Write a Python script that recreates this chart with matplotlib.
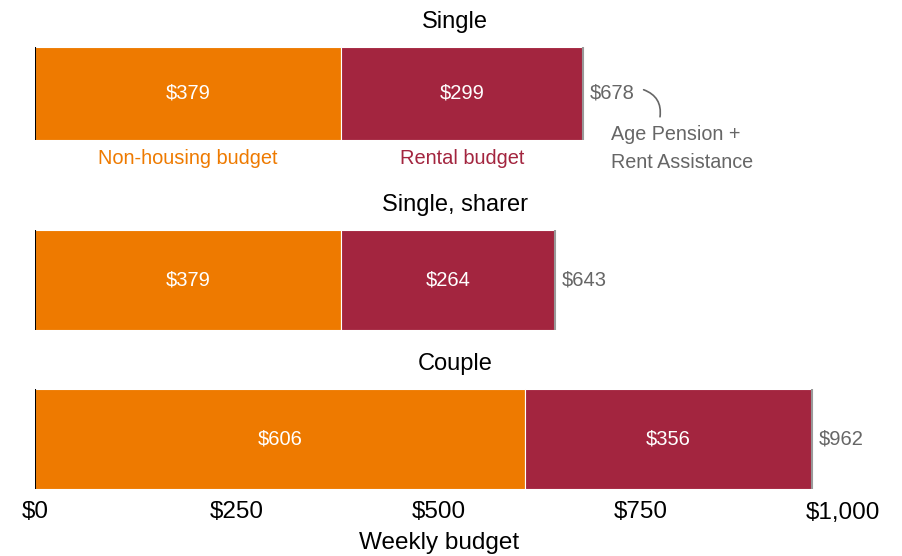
import matplotlib
matplotlib.use("Agg")
import matplotlib.pyplot as plt

plt.rcParams['font.family'] = ['Liberation Sans', 'DejaVu Sans']

# data
groups = ["Single", "Single, sharer", "Couple"]
non_housing = [379, 379, 606]
rental = [299, 264, 356]
xticks = [0, 250, 500, 750, 1000]
xtick_labels = ["$0", "$250", "$500", "$750", "$1,000"]

orange = "#EE7A00"
red = "#A3253F"
grey = "#666666"

W, H = 902, 556
fig = plt.figure(figsize=(W / 100, H / 100), dpi=100)

# bar boxes in pixels (top, bottom)
boxes = [(47, 140), (230, 330), (389, 489)]
x0, x1 = 35, 843


def rect(top, bottom):
    return [x0 / W, (H - bottom) / H, (x1 - x0) / W, (bottom - top) / H]


axes = []
for i, g in enumerate(groups):
    ax = fig.add_axes(rect(*boxes[i]))
    nh, rt = non_housing[i], rental[i]
    tot = nh + rt
    ax.barh(0, nh, height=1, left=0, color=orange, edgecolor="white", linewidth=0.8)
    ax.barh(0, rt, height=1, left=nh, color=red, edgecolor="white", linewidth=0.8)
    ax.set_xlim(0, 1000)
    ax.set_ylim(-0.5, 0.5)
    ax.axvline(0, color="black", lw=1.5)
    ax.axvline(tot, color="#999999", lw=1.5)
    ax.text(nh / 2, 0, f"${nh}", color="white", ha="center", va="center", fontsize=14.5)
    ax.text(nh + rt / 2, 0, f"${rt}", color="white", ha="center", va="center", fontsize=14.5)
    ax.annotate(f"${tot}", xy=(tot, 0), xytext=(5, 0), textcoords="offset points",
                ha="left", va="center", color=grey, fontsize=14.5)
    for s in ax.spines.values():
        s.set_visible(False)
    ax.set_yticks([])
    ax.tick_params(axis="x", length=0)
    if i < 2:
        ax.set_xticks([])
    else:
        ax.set_xticks(xticks)
        ax.set_xticklabels(xtick_labels, fontsize=17.5)
        ax.tick_params(axis="x", pad=9)
        ax.set_xlabel("Weekly budget", fontsize=17.5, labelpad=6)
    fig.text(455 / W, 1 - (boxes[i][0] - 25) / H, g, ha="center", va="center", fontsize=17)
    axes.append(ax)

ax = axes[0]
ax.text(non_housing[0] / 2, -0.7, "Non-housing budget", color=orange,
        ha="center", va="center", fontsize=14.4)
ax.text(non_housing[0] + rental[0] / 2, -0.7, "Rental budget", color=red,
        ha="center", va="center", fontsize=14.4)
ax.text(713, -0.59, "Age Pension +\nRent Assistance", color=grey,
        ha="left", va="center", fontsize=14.2, linespacing=1.6)
# curved leader line from the total to the note
ax.annotate("", xy=(773, -0.28), xytext=(750, 0.05),
            arrowprops=dict(arrowstyle="-", color=grey, lw=1.2,
                            connectionstyle="arc3,rad=-0.45"))

fig.savefig("out.png", dpi=100)
